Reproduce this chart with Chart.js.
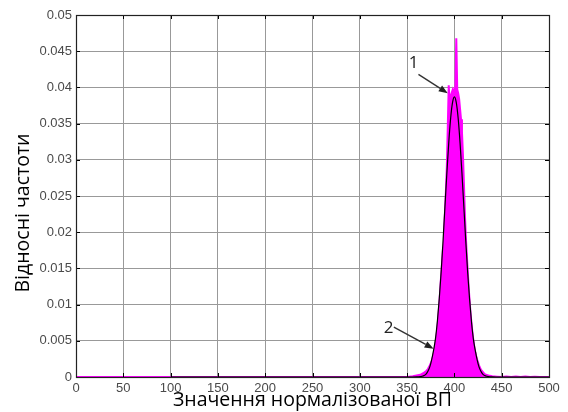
<!DOCTYPE html>
<html><head><meta charset="utf-8">
<script src="https://cdn.jsdelivr.net/npm/chart.js@4/dist/chart.umd.min.js"></script>
<style>html,body{margin:0;padding:0;background:#fff}</style>
</head><body>
<canvas id="c" width="568" height="412"></canvas>
<script>
// ---- data ----
const xTicks = [0, 50, 100, 150, 200, 250, 300, 350, 400, 450, 500];
const xTickLabels = ['0', '50', '100', '150', '200', '250', '300', '350', '400', '450', '500'];
const yTicks = [0, 0.005, 0.01, 0.015, 0.02, 0.025, 0.03, 0.035, 0.04, 0.045, 0.05];
const yTickLabels = ['0', '0.005', '0.01', '0.015', '0.02', '0.025', '0.03', '0.035', '0.04', '0.045', '0.05'];

// relative frequencies (magenta, 1)
const histX = [0, 350, 356, 360, 364, 368, 370, 372, 374, 376, 377, 378, 379, 380, 381, 382, 383, 384, 385, 386, 387, 388, 389, 390, 391, 392, 393, 394, 395, 396, 397, 398, 399, 400, 401, 402, 403, 404, 405, 406, 407, 408, 409, 410, 411, 412, 413, 414, 415, 416, 417, 418, 419, 420, 421, 422, 423, 424, 426, 428, 430, 432, 434, 436, 440, 445, 450, 455, 460, 465, 470, 475, 480, 485, 490, 500];
const histY = [0, 0, 0.0001, 0.0002, 0.0003, 0.0006, 0.0008, 0.0011, 0.0016, 0.0022, 0.0026, 0.0031, 0.0038, 0.0046, 0.0056, 0.0068, 0.0083, 0.0100, 0.0120, 0.0140, 0.0158, 0.0178, 0.0200, 0.0226, 0.0256, 0.0290, 0.0345, 0.0403, 0.0378, 0.0388, 0.0392, 0.0396, 0.0389, 0.0398, 0.0401, 0.0468, 0.0397, 0.0392, 0.0384, 0.0370, 0.0356, 0.0338, 0.0308, 0.0270, 0.0228, 0.0196, 0.0171, 0.0148, 0.0126, 0.0106, 0.0089, 0.0075, 0.0062, 0.0051, 0.0042, 0.0035, 0.0029, 0.0024, 0.0016, 0.0010, 0.0007, 0.0004, 0.0003, 0.0002, 0.0001, 0.00005, 0, 0.00008, 0, 0.00006, 0, 0.00008, 0, 0.00005, 0, 0];

// fitted curve (black, 2)
const curveX = [100, 350, 356, 360, 364, 366, 368, 370, 372, 374, 376, 378, 380, 382, 384, 386, 388, 390, 392, 394, 396, 398, 400, 402, 404, 406, 408, 410, 412, 414, 416, 418, 420, 422, 424, 426, 428, 430, 432, 434, 436, 440, 444, 450, 500];
const curveY = [0, 0, 0, 0.00002, 0.00006, 0.0001, 0.0002, 0.0004, 0.0008, 0.0014, 0.0024, 0.0037, 0.0053, 0.0077, 0.0108, 0.0145, 0.0188, 0.0235, 0.0281, 0.0323, 0.0357, 0.0379, 0.0387, 0.0379, 0.0357, 0.0323, 0.0281, 0.0235, 0.0188, 0.0145, 0.0108, 0.0077, 0.0053, 0.0037, 0.0024, 0.0014, 0.0008, 0.0004, 0.0002, 0.0001, 0.00006, 0.00002, 0, 0, 0];

const xTitle = 'Значення нормалізованої ВП';
const yTitle = 'Відносні частоти';
const noteLabels = ['1', '2'];

// ---- annotation placement (data units) ----
const notes = [
  { text: noteLabels[0], tx: 357, ty: 0.0434, x0: 362, y0: 0.0418, x1: 393, y1: 0.0392 },
  { text: noteLabels[1], tx: 330.5, ty: 0.0068, x0: 336, y0: 0.0069, x1: 378, y1: 0.0039 }
];

const toPts = (xs, ys) => xs.map((x, i) => ({ x: x, y: ys[i] }));

const framePlugin = {
  id: 'frame',
  afterDatasetsDraw(chart) {
    const { ctx, chartArea: a, scales } = chart;
    ctx.save();
    ctx.strokeStyle = '#000';
    ctx.lineWidth = 1;
    ctx.beginPath();
    xTicks.forEach(v => {
      const p = Math.round(scales.x.getPixelForValue(v)) + 0.5;
      ctx.moveTo(p, a.bottom); ctx.lineTo(p, a.bottom - 4);
      ctx.moveTo(p, a.top); ctx.lineTo(p, a.top + 4);
    });
    yTicks.forEach(v => {
      const p = Math.round(scales.y.getPixelForValue(v)) + 0.5;
      ctx.moveTo(a.left, p); ctx.lineTo(a.left + 4, p);
      ctx.moveTo(a.right, p); ctx.lineTo(a.right - 4, p);
    });
    ctx.stroke();
    ctx.lineWidth = 1.2;
    ctx.strokeStyle = '#222';
    ctx.strokeRect(a.left + 0.5, a.top + 0.5, a.right - a.left, a.bottom - a.top);

    notes.forEach(n => {
      const tx = scales.x.getPixelForValue(n.tx), ty = scales.y.getPixelForValue(n.ty);
      const x0 = scales.x.getPixelForValue(n.x0), y0 = scales.y.getPixelForValue(n.y0);
      const x1 = scales.x.getPixelForValue(n.x1), y1 = scales.y.getPixelForValue(n.y1);
      ctx.fillStyle = '#222';
      ctx.font = '17px "Open Sans", sans-serif';
      ctx.textAlign = 'center';
      ctx.textBaseline = 'middle';
      ctx.fillText(n.text, tx, ty);
      ctx.strokeStyle = '#333';
      ctx.lineWidth = 1.4;
      const ang = Math.atan2(y1 - y0, x1 - x0);
      const hl = 9, hw = 3.5;
      const bx = x1 - hl * Math.cos(ang), by = y1 - hl * Math.sin(ang);
      ctx.beginPath(); ctx.moveTo(x0, y0); ctx.lineTo(bx, by); ctx.stroke();
      ctx.beginPath();
      ctx.moveTo(x1, y1);
      ctx.lineTo(bx + hw * Math.sin(ang), by - hw * Math.cos(ang));
      ctx.lineTo(bx - hw * Math.sin(ang), by + hw * Math.cos(ang));
      ctx.closePath();
      ctx.fillStyle = '#222';
      ctx.fill();
    });

    ctx.save();
    ctx.translate(23, (a.top + a.bottom) / 2 + 17);
    ctx.rotate(-Math.PI / 2);
    ctx.fillStyle = '#000';
    ctx.font = '19.5px "Open Sans", sans-serif';
    ctx.textAlign = 'center';
    ctx.textBaseline = 'middle';
    ctx.fillText(yTitle, 0, 0);
    ctx.restore();
    ctx.restore();
  }
};

new Chart(document.getElementById('c'), {
  type: 'line',
  data: {
    datasets: [
      {
        label: '1',
        order: 2,
        data: toPts(histX, histY),
        borderColor: '#ff00ff',
        backgroundColor: '#ff00ff',
        borderWidth: 2,
        fill: 'origin',
        pointRadius: 0,
        tension: 0
      },
      {
        label: '2',
        order: 1,
        data: toPts(curveX, curveY),
        borderColor: '#000',
        borderWidth: 1.2,
        fill: false,
        pointRadius: 0,
        cubicInterpolationMode: 'monotone'
      }
    ]
  },
  options: {
    responsive: false,
    animation: false,
    devicePixelRatio: 1,
    layout: { padding: { top: 15, right: 19, left: 0, bottom: 0 } },
    plugins: { legend: { display: false }, tooltip: { enabled: false } },
    scales: {
      x: {
        type: 'linear', min: 0, max: 500,
        afterBuildTicks: s => { s.ticks = xTicks.map(v => ({ value: v })); },
        afterFit: s => { s.height = 35; },
        grid: { color: '#999', lineWidth: 1, drawTicks: false },
        border: { display: true, color: '#222', width: 1 },
        ticks: {
          padding: 4, maxRotation: 0, autoSkip: false, color: '#4a4a4a',
          font: { family: 'Liberation Sans', size: 13 },
          callback: (v) => xTickLabels[xTicks.indexOf(v)]
        },
        title: {
          display: true, text: xTitle, color: '#000',
          font: { family: 'Open Sans', size: 19.5 },
          padding: { top: -1, bottom: 0 }
        }
      },
      y: {
        type: 'linear', min: 0, max: 0.05,
        afterBuildTicks: s => { s.ticks = yTicks.map(v => ({ value: v })); },
        afterFit: s => { s.width = 76; },
        grid: { color: '#999', lineWidth: 1, drawTicks: false },
        border: { display: true, color: '#222', width: 1 },
        ticks: {
          padding: 4, color: '#4a4a4a',
          font: { family: 'Liberation Sans', size: 13 },
          callback: (v) => yTickLabels[yTicks.findIndex(t => Math.abs(t - v) < 1e-9)]
        }
      }
    }
  },
  plugins: [framePlugin]
});
</script>
</body></html>
